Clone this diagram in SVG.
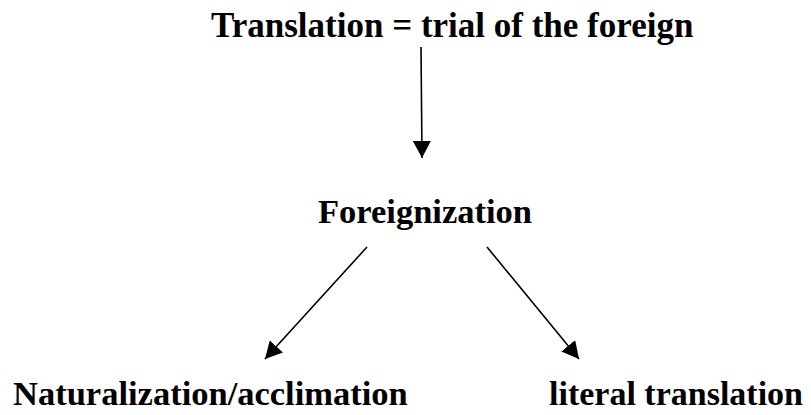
<svg xmlns="http://www.w3.org/2000/svg" width="811" height="415" viewBox="0 0 811 415">
  <style>
    .label { font-family: "Liberation Serif", "Times New Roman", serif; font-weight: bold; fill: #000; }
    .edge { stroke: #000; stroke-width: 1.6; fill: none; marker-end: url(#head); }
  </style>
  <defs>
    <!-- solid triangular arrowhead shared by all connectors -->
    <marker id="head" markerUnits="userSpaceOnUse" markerWidth="18" markerHeight="18" refX="17" refY="9" orient="auto">
      <path d="M0,0 L17,9 L0,18 Z" fill="#000"/>
    </marker>
  </defs>
  <rect width="811" height="415" fill="#fff"/>

  <g id="node-translation">
    <text class="label" x="211" y="37" font-size="35">Translation = trial of the foreign</text>
  </g>
  <g id="node-foreignization">
    <text class="label" x="318" y="223" font-size="34.5">Foreignization</text>
  </g>
  <g id="node-naturalization">
    <text class="label" x="13" y="405" font-size="34.5">Naturalization/acclimation</text>
  </g>
  <g id="node-literal">
    <text class="label" x="549" y="405" font-size="34">literal translation</text>
  </g>

  <g id="connectors">
    <line class="edge" x1="421" y1="47" x2="422" y2="158"/>
    <line class="edge" x1="367" y1="247" x2="265" y2="359"/>
    <line class="edge" x1="487" y1="247" x2="579" y2="359"/>
  </g>
</svg>
